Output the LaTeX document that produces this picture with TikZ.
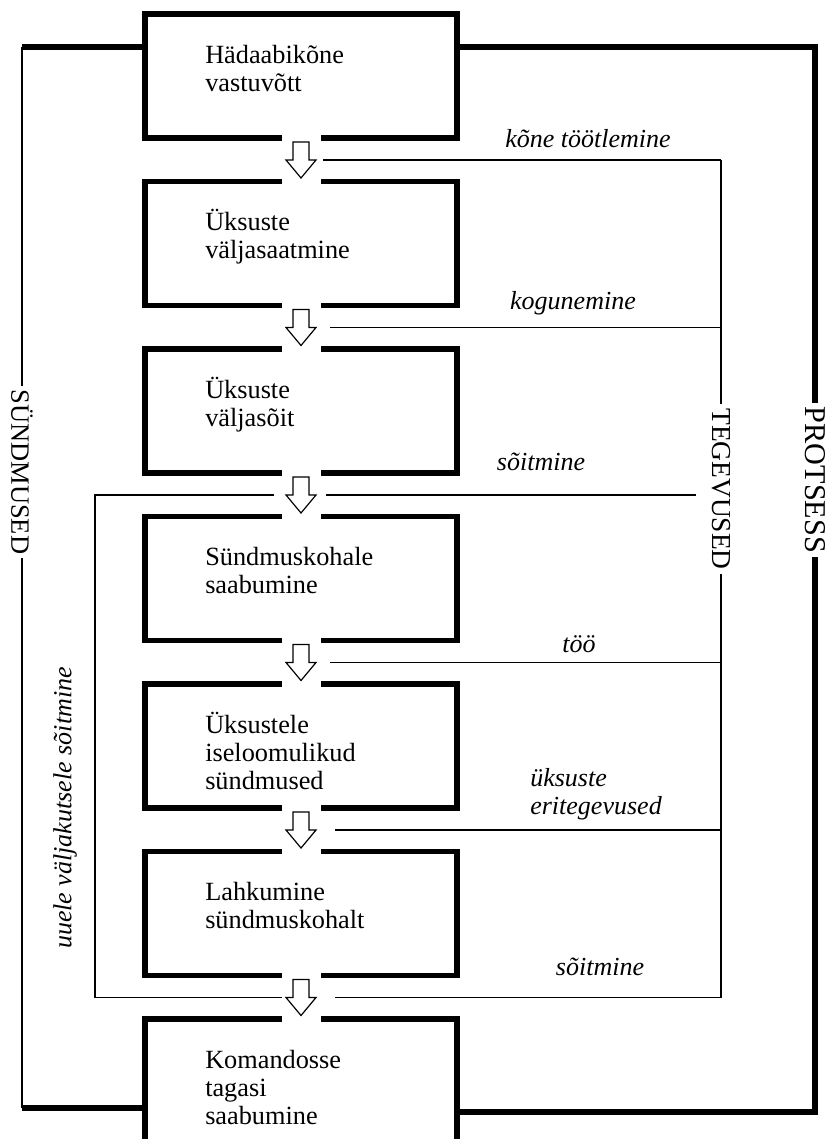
\documentclass[tikz,border=0pt]{standalone}
\usepackage{fontspec}
\setmainfont{Liberation Serif}

\newcommand{\tstrut}{\rule{0pt}{17pt}}

\begin{document}
\begin{tikzpicture}[x=0.025cm, y=-0.025cm,
            stage/.style={draw, line width=1.375mm, minimum width=7.8cm, minimum height=3.1cm, inner sep=0pt, outer sep=0pt},
            stagetext/.style={anchor=north west, align=left, inner sep=0pt, font=\fontsize{18.7}{19.9}\selectfont},
            note/.style={inner sep=0pt, font=\fontsize{18.5}{19.9}\selectfont\itshape},
            sidelabel/.style={fill=white, inner xsep=3pt, inner ysep=1pt, font=\fontsize{19.5}{20}\selectfont},
            heavyline/.style={line width=1.375mm},
            thinline/.style={line width=0.33mm},
            dnarrow/.pic={
                \fill[white] (-19.5,-25) rectangle (19.5,25);
                \draw[line width=0.3mm, fill=white] (-8,-18) -- (-8,0) -- (-15,0) -- (0,18) -- (15,0) -- (8,0) -- (8,-18) -- cycle;
            }]

            \useasboundingbox (0,0) rectangle (827,1139);
            \clip (0,0) rectangle (827,1139);

            % stages
            \node[stage] (b1) at (301,76) {};
            \node[stage] (b2) at (301,243.5) {};
            \node[stage] (b3) at (301,411) {};
            \node[stage] (b4) at (301,578.5) {};
            \node[stage] (b5) at (301,746) {};
            \node[stage] (b6) at (301,913.5) {};
            \node[stage] (b7) at (301,1081) {};

            \node[stagetext] (t1) at ([xshift=1.5cm,yshift=-0.625cm]b1.north west) {\tstrut Hädaabikõne\\vastuvõtt};
            \node[stagetext] (t2) at ([xshift=1.5cm,yshift=-0.625cm]b2.north west) {\tstrut Üksuste\\väljasaatmine};
            \node[stagetext] (t3) at ([xshift=1.5cm,yshift=-0.625cm]b3.north west) {\tstrut Üksuste\\väljasõit};
            \node[stagetext] (t4) at ([xshift=1.5cm,yshift=-0.625cm]b4.north west) {\tstrut Sündmuskohale\\saabumine};
            \node[stagetext] (t5) at ([xshift=1.5cm,yshift=-0.625cm]b5.north west) {\tstrut Üksustele\\iseloomulikud\\sündmused};
            \node[stagetext] (t6) at ([xshift=1.5cm,yshift=-0.625cm]b6.north west) {\tstrut Lahkumine\\sündmuskohalt};
            \node[stagetext] (t7) at ([xshift=1.5cm,yshift=-0.625cm]b7.north west) {\tstrut Komandosse\\tagasi\\saabumine};

            % arrows between stages
            \coordinate (a1) at (301,160);
            \coordinate (a2) at (301,327.5);
            \coordinate (a3) at (301,495);
            \coordinate (a4) at (301,662.5);
            \coordinate (a5) at (301,830);
            \coordinate (a6) at (301,997.5);
            \foreach \a in {a1,a2,a3,a4,a5,a6}
                \pic at (\a) {dnarrow};

            % events
            \coordinate (sTop) at (22,47);
            \coordinate (sBot) at (22,1108);
            \draw[heavyline] (sTop) -- (sTop -| b1.west);
            \draw[heavyline] (sBot) -- (sBot -| b7.west);
            \draw[thinline] (sTop) -- (sBot);
            \node[sidelabel, rotate=-90, font=\fontsize{18.8}{20}\selectfont] (sund) at (22,472) {SÜNDMUSED};

            % process
            \coordinate (pTop) at (815,47);
            \coordinate (pBot) at (815,1112);
            \draw[heavyline] (pTop -| b1.east) -- (pTop) -- (pBot) -- (pBot -| b7.east);
            \node[sidelabel, rotate=-90, font=\fontsize{21.5}{22}\selectfont] (prot) at (815,480) {PROTSESS};

            % activities
            \coordinate (tTop) at (721,160);
            \coordinate (tBot) at (721,997.5);
            \coordinate (tEnd) at (696,495);
            \draw[thinline] (tTop) -- (tBot);
            \draw[thinline] ([xshift=0.55cm]a1) -- (a1 -| tTop);
            \draw[thinline] ([xshift=0.725cm]a2) -- (a2 -| tTop);
            \draw[thinline] ([xshift=0.625cm]a3) -- (tEnd);
            \draw[thinline] ([xshift=0.725cm]a4) -- (a4 -| tTop);
            \draw[thinline] ([xshift=0.85cm]a5) -- (a5 -| tTop);
            \draw[thinline] ([xshift=0.85cm]a6) -- (a6 -| tTop);
            \node[sidelabel, rotate=-90] (teg) at (721,489) {TEGEVUSED};

            % back to a new call
            \coordinate (lTop) at (95,495);
            \coordinate (lBot) at (95,997.5);
            \draw[thinline] ([xshift=-0.675cm]a3) -- (lTop) -- (lBot) -- ([xshift=-0.475cm]a6);
            \node[note, rotate=90] (uus) at (65,808) {uuele väljakutsele sõitmine};

            \node[note, anchor=base] (n1) at (588,147) {kõne töötlemine};
            \node[note, anchor=base] (n2) at (573,309) {kogunemine};
            \node[note, anchor=base] (n3) at (541,470) {sõitmine};
            \node[note, anchor=base] (n4) at (579,652) {töö};
            \node[note, anchor=north west, align=left] (n5) at (530,762) {\tstrut üksuste\\eritegevused};
            \node[note, anchor=base] (n6) at (600,975) {sõitmine};

\end{tikzpicture}
\end{document}
